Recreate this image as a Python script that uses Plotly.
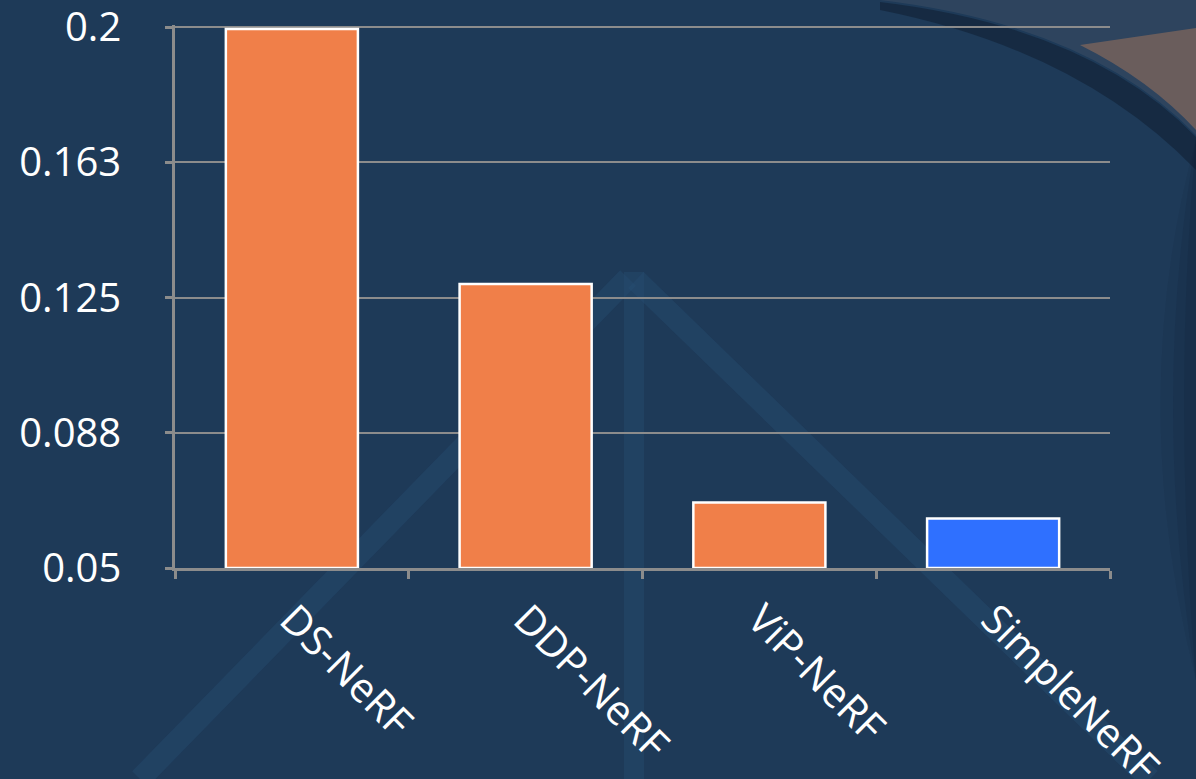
import plotly.graph_objects as go

categories = ["DS-NeRF", "DDP-NeRF", "ViP-NeRF", "SimpleNeRF"]
values = [0.1995, 0.1288, 0.0682, 0.0637]
bar_colors = ["#F07F49", "#F07F49", "#F07F49", "#2F70FF"]
tick_vals = [0.05, 0.0875, 0.125, 0.1625, 0.2]
tick_text = ["0.05", "0.088", "0.125", "0.163", "0.2"]
y_base = 0.05

BG = "#1E3A58"
GRID = "#8C8C8C"

# plot area in pixels: x 175..1110, y 25..568
L, R, T, B = 175, 1110, 25, 568
W, H = 1196, 779


def px(x):
    return (x - L) / (R - L)


def py(y):
    return (B - y) / (B - T)


fig = go.Figure()
fig.add_trace(go.Bar(
    x=categories,
    y=[v - y_base for v in values],
    base=y_base,
    marker=dict(color=bar_colors, line=dict(color="white", width=2.5)),
    width=0.565,
    customdata=values,
    hovertemplate="%{x}: %{customdata}<extra></extra>",
))

shapes = []
stripe = "rgba(40,80,115,0.38)"
# faint decorative "A" stripes in the background
shapes.append(dict(type="line", xref="paper", yref="paper",
                   x0=px(140), y0=py(779), x1=px(628), y1=py(278),
                   line=dict(color=stripe, width=22), layer="below"))
shapes.append(dict(type="line", xref="paper", yref="paper",
                   x0=px(636), y0=py(280), x1=px(1150), y1=py(779),
                   line=dict(color=stripe, width=22), layer="below"))
shapes.append(dict(type="line", xref="paper", yref="paper",
                   x0=px(634), y0=py(272), x1=px(634), y1=py(779),
                   line=dict(color=stripe, width=20), layer="below"))
# sky above the dark sphere at top-right
shapes.append(dict(type="path", xref="paper", yref="paper",
                   path=(f"M {px(880)},{py(0)} Q {px(1090)},{py(25)} {px(1196)},{py(135)} "
                         f"L {px(1196)},{py(0)} Z"),
                   fillcolor="rgba(70,85,105,0.40)", line=dict(width=0), layer="below"))
# warm glow along the sphere rim
shapes.append(dict(type="path", xref="paper", yref="paper",
                   path=(f"M {px(1080)},{py(45)} L {px(1196)},{py(28)} L {px(1196)},{py(130)} "
                         f"Q {px(1150)},{py(80)} {px(1080)},{py(45)} Z"),
                   fillcolor="rgba(180,125,90,0.45)", line=dict(width=0), layer="below"))
# dark shadow along the rim
shapes.append(dict(type="path", xref="paper", yref="paper",
                   path=(f"M {px(880)},{py(2)} Q {px(1090)},{py(27)} {px(1196)},{py(137)} "
                         f"L {px(1196)},{py(170)} Q {px(1080)},{py(50)} {px(880)},{py(10)} Z"),
                   fillcolor="rgba(10,20,35,0.40)", line=dict(width=0), layer="below"))
# soft darker right edge (crescents)
for xin, op in [(1125, 0.10), (1150, 0.12), (1172, 0.14)]:
    shapes.append(dict(type="path", xref="paper", yref="paper",
                       path=(f"M {px(1196)},{py(140)} Q {px(xin)},{py(400)} {px(1196)},{py(680)} Z"),
                       fillcolor=f"rgba(15,28,48,{op})", line=dict(width=0), layer="below"))

fig.update_layout(
    width=W, height=H,
    paper_bgcolor=BG, plot_bgcolor="rgba(0,0,0,0)",
    margin=dict(l=L, r=W - R, t=T, b=H - B, pad=0, autoexpand=False),
    showlegend=False,
    shapes=shapes,
    font=dict(family="Open Sans", color="white", size=40),
    bargap=0.435,
)
fig.update_xaxes(
    type="category",
    automargin=False,
    showgrid=False,
    showline=True, linecolor=GRID, linewidth=2.5,
    ticks="outside", tickson="boundaries", ticklen=8, tickcolor=GRID, tickwidth=2.5,
    tickangle=45,
    ticklabelstandoff=8,
    ticklabeloverflow="allow",
    tickfont=dict(family="Open Sans", size=41, color="white"),
)
fig.update_yaxes(
    range=[0.05, 0.2006],
    automargin=False,
    tickvals=tick_vals, ticktext=tick_text,
    showgrid=True, gridcolor=GRID, gridwidth=2,
    showline=True, linecolor=GRID, linewidth=2.5,
    ticks="outside", ticklen=7, tickcolor=GRID, tickwidth=2.5,
    ticklabelstandoff=36,
    ticklabeloverflow="allow",
    zeroline=False,
    tickfont=dict(family="Open Sans", size=40, color="white"),
)

fig.write_html(
    "out.html",
    config={"displayModeBar": False},
    post_script="document.body.style.margin='0';document.body.style.overflow='hidden';",
)
